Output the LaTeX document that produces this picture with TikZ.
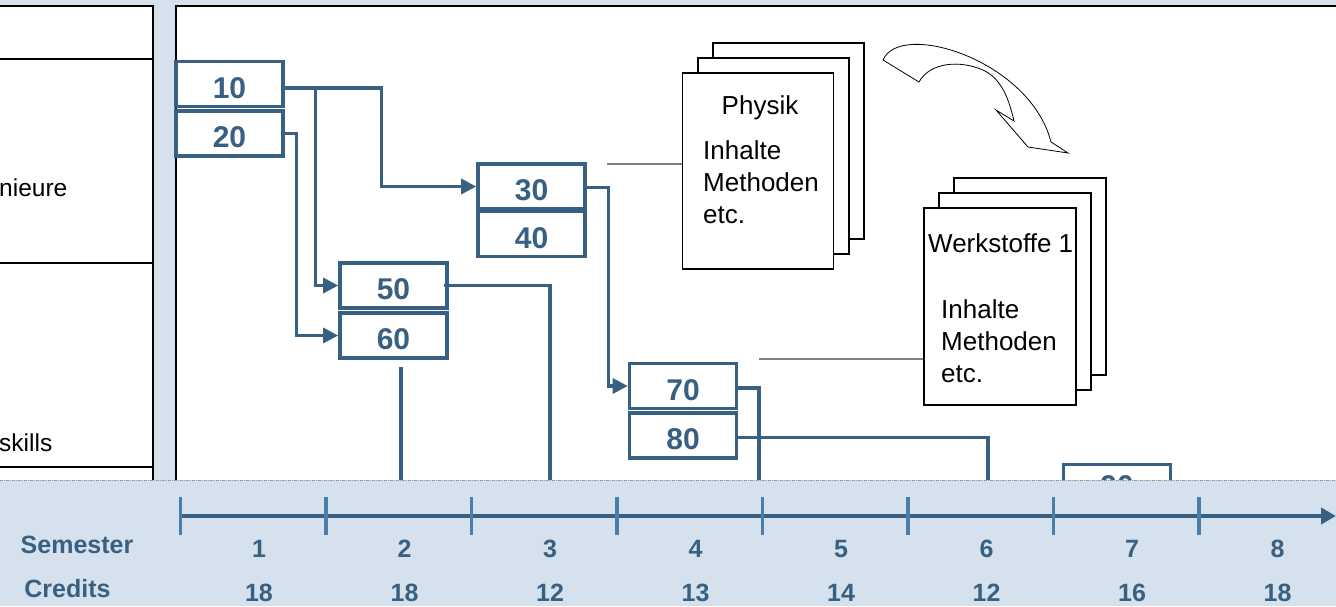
\documentclass[tikz,border=0pt]{standalone}
\usepackage{fontspec}
\setmainfont{Liberation Sans}
\usetikzlibrary{arrows.meta}
\definecolor{bandblue}{RGB}{213,225,236}
\definecolor{boxblue}{RGB}{56,96,130}
\definecolor{tickblue}{RGB}{74,125,170}
\definecolor{linegray}{RGB}{128,128,128}
\begin{document}
\begin{tikzpicture}[x=1pt,y=-1pt,
  numbox/.style={draw=boxblue, line width=3.6pt, fill=white, minimum width=107pt, minimum height=45pt, inner sep=0pt, text height=28.5pt, text depth=0pt, font=\fontsize{30}{30}\selectfont\bfseries, text=boxblue},
  conn/.style={draw=boxblue, line width=3.2pt},
  arr/.style={-{Triangle[length=15pt,width=15pt]}},
  docpage/.style={draw=black, line width=1.1pt, fill=white, minimum width=151pt, minimum height=196pt, inner sep=0pt},
  doctext/.style={font=\fontsize{26}{26}\selectfont, inner sep=0pt},
  lefttext/.style={font=\fontsize{24.5}{24.5}\selectfont, inner sep=0pt},
  axlabel/.style={font=\fontsize{25}{25}\selectfont\bfseries, text=boxblue, inner sep=0pt},
  grayline/.style={draw=linegray, line width=1.2pt},
  panelline/.style={draw=black, line width=2pt}
]
\useasboundingbox (0,0) rectangle (1336,606);
% background
\fill[bandblue] (0,0) rectangle (1336,606);
% left panel
\fill[white] (-5,6) rectangle (153,480);
\draw[panelline] (-5,6) -- (153,6) -- (153,480);
\draw[panelline, line width=1.6pt] (-5,59) -- (153,59);
\draw[panelline, line width=1.6pt] (-5,263) -- (153,263);
\draw[panelline, line width=1.6pt] (-5,467) -- (153,467);
\node[lefttext, anchor=west] (t1) at (-1,188) {nieure};
\node[lefttext, anchor=west] (t2) at (-1,443) {skills};
% right panel
\fill[white] (176,6) rectangle (1340,480);
\draw[panelline] (176,480) -- (176,6) -- (1340,6);

% document stacks
\node[docpage] (p3) at (788.5,141) {};
\node[docpage] (p2) at (773.5,156) {};
\node[docpage] (phys) at (758,171) {};
\node[doctext, anchor=base] (physT) at (760,114) {Physik};
\node[doctext, anchor=base west] (physA) at (703,159) {Inhalte};
\node[doctext, anchor=base west] (physB) at (703,191) {Methoden};
\node[doctext, anchor=base west] (physC) at (703,223) {etc.};

\node[docpage, minimum width=152pt, minimum height=197pt] (w3) at (1030,276.5) {};
\node[docpage, minimum width=152pt, minimum height=197pt] (w2) at (1015,291.5) {};
\node[docpage, minimum width=152pt, minimum height=197pt] (wk) at (1000,306.5) {};
\node[doctext, anchor=base west] (wkT) at (928,252) {Werkstoffe 1};
\node[doctext, anchor=base west] (wkA) at (941,318) {Inhalte};
\node[doctext, anchor=base west] (wkB) at (941,350) {Methoden};
\node[doctext, anchor=base west] (wkC) at (941,382) {etc.};

% curved arrow
\draw[black, line width=0.8pt, line join=miter]
  (883,60) .. controls (900,20) and (1030,60) .. (1051,142)
  -- (1068,153) -- (1028,147) -- (996,110) -- (1014,121)
  .. controls (1008,95) and (1000,78) .. (983,70)
  .. controls (960,60) and (930,62) .. (919,82) -- cycle;

% gray connectors
\coordinate (g1) at (607,164);
\coordinate (g2) at (759,359);
\draw[grayline] (g1) -- (g1 -| phys.west);
\draw[grayline] (g2) -- (g2 -| wk.west);

% module boxes
\node[numbox] (b10) at (229.5,84) {10};
\node[numbox] (b20) at (229.5,133.5) {20};
\node[numbox] (b30) at (531.5,186.5) {30};
\node[numbox] (b40) at (531.5,234) {40};
\node[numbox] (b50) at (393.5,285.5) {50};
\node[numbox] (b60) at (393.5,335.5) {60};
\node[numbox] (b70) at (683,386) {70};
\node[numbox] (b80) at (683,435.5) {80};
\node[numbox, text height=19pt] (b90) at (1117,487) {90};

% connectors
\coordinate (e50) at (550,500);
\coordinate (s60) at (401,367);
\coordinate (e60) at (401,500);
\coordinate (e70) at (759,500);
\coordinate (e80) at (988,500);
\draw[conn, arr] ([yshift=-4pt]b10.east) -- ++(97,0) |- (b30.west);
\draw[conn, arr] ([yshift=-4pt]b10.east) -- ++(31,0) |- (b50.west);
\draw[conn, arr] (b20.east) -- ++(12,0) |- (b60.west);
\draw[conn, arr] ([yshift=-1pt]b30.east) -- ++(22,0) |- (b70.west);
\draw[conn] ([xshift=-5pt]b50.east) -| (e50);
\draw[conn] (s60) -- (e60);
\draw[conn] ([yshift=-2pt]b70.east) -| (e70);
\draw[conn] ([yshift=-2pt]b80.east) -| (e80);

% bottom band
\fill[bandblue] (0,480) rectangle (1336,606);
\draw[linegray!80, line width=1pt, dash pattern=on 3pt off 1pt on 1pt off 1pt] (0,480) -- (1336,480);

% axis
\coordinate (ax0) at (180.5,516);
\coordinate (ax1) at (1336,516);
\draw[boxblue, line width=4pt, -{Triangle[length=15pt,width=16pt]}] (ax0) -- (ax1);
\foreach \i in {0,...,7} {
  \draw[tickblue, line width=3.2pt] (180.5+145.5*\i,497) -- (180.5+145.5*\i,535);
}
\node[axlabel, anchor=base] (semL) at (77,553) {Semester};
\node[axlabel, anchor=base] (credL) at (67.5,597) {Credits};
\foreach \s/\c [count=\i from 0] in {1/18,2/18,3/12,4/13,5/14,6/12,7/16,8/18} {
  \node[axlabel, anchor=base] (sem\s) at (259+145.5*\i,557) {\s};
  \node[axlabel, anchor=base] (cr\s) at (259+145.5*\i,601) {\c};
}
\end{tikzpicture}
\end{document}
